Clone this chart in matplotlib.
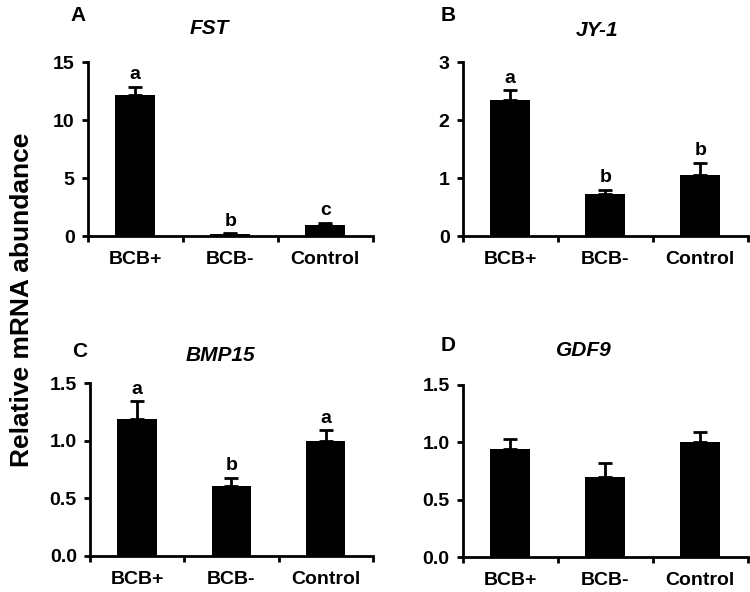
import numpy as np
import matplotlib
matplotlib.use('Agg')
import matplotlib.pyplot as plt

plt.rcParams['font.family'] = ['Liberation Sans', 'DejaVu Sans']
plt.rcParams['font.weight'] = 'bold'

# data
groups = ['BCB+', 'BCB-', 'Control']

fst_mean = [12.2, 0.15, 1.0]
fst_err = [0.7, 0.1, 0.15]
fst_sig = ['a', 'b', 'c']

jy1_mean = [2.35, 0.72, 1.05]
jy1_err = [0.17, 0.08, 0.22]
jy1_sig = ['a', 'b', 'b']

bmp15_mean = [1.19, 0.61, 1.0]
bmp15_err = [0.15, 0.07, 0.09]
bmp15_sig = ['a', 'b', 'a']

gdf9_mean = [0.94, 0.70, 1.0]
gdf9_err = [0.09, 0.12, 0.09]
gdf9_sig = ['', '', '']

panels = [
    ('A', 'FST', fst_mean, fst_err, fst_sig, [0, 5, 10, 15], '%d'),
    ('B', 'JY-1', jy1_mean, jy1_err, jy1_sig, [0, 1, 2, 3], '%d'),
    ('C', 'BMP15', bmp15_mean, bmp15_err, bmp15_sig, [0, 0.5, 1.0, 1.5], '%.1f'),
    ('D', 'GDF9', gdf9_mean, gdf9_err, gdf9_sig, [0, 0.5, 1.0, 1.5], '%.1f'),
]

# axes boxes [left, bottom, width, height]
boxes = [
    [0.117, 0.601, 0.380, 0.294],
    [0.617, 0.601, 0.380, 0.294],
    [0.120, 0.061, 0.377, 0.292],
    [0.617, 0.059, 0.380, 0.291],
]
# label / title spots in axes fractions
letter_pos = [(-0.035, 1.27), (-0.05, 1.27), (-0.035, 1.18), (-0.053, 1.227)]
title_pos = [(0.425, 1.195), (0.47, 1.18), (0.46, 1.16), (0.425, 1.20)]

fig = plt.figure(figsize=(7.5, 5.92), dpi=100)

for i, (letter, gene, mean, err, sig, yt, fmt) in enumerate(panels):
    ax = fig.add_axes(boxes[i])
    x = np.arange(len(groups))
    ax.bar(x, mean, width=0.42, color='black', zorder=2)
    ax.errorbar(x, mean, yerr=[np.zeros(len(err)), err], fmt='none',
                ecolor='black', elinewidth=2, capsize=5, capthick=2, zorder=1)
    top = yt[-1]
    for xi, m, e, s in zip(x, mean, err, sig):
        if s:
            ax.text(xi, m + e + top * 0.02, s, ha='center', va='bottom',
                    fontsize=14, fontweight='bold')
    ax.set_xlim(-0.5, 2.5)
    ax.set_ylim(0, top)
    ax.set_yticks(yt)
    ax.set_yticklabels([fmt % v for v in yt], fontsize=14, fontweight='bold')
    ax.set_xticks([-0.5, 0.5, 1.5, 2.5])
    ax.set_xticklabels([])
    ax.set_xticks(x, minor=True)
    ax.set_xticklabels(groups, minor=True, fontsize=14, fontweight='bold')
    ax.tick_params(axis='x', which='minor', length=0, pad=11)
    ax.tick_params(axis='x', which='major', length=4.5, width=2, direction='out')
    ax.tick_params(axis='y', length=4.5, width=2, direction='out', pad=5)
    for side in ['top', 'right']:
        ax.spines[side].set_visible(False)
    for side in ['left', 'bottom']:
        ax.spines[side].set_linewidth(2)
    tx, ty = title_pos[i]
    ax.text(tx, ty, gene, transform=ax.transAxes, fontsize=15,
            fontweight='bold', style='italic', ha='center', va='center')
    lx, ly = letter_pos[i]
    ax.text(lx, ly, letter, transform=ax.transAxes, fontsize=15,
            fontweight='bold', ha='center', va='center')

fig.text(0.029, 0.493, 'Relative mRNA abundance', rotation=90, ha='center',
         va='center', fontsize=19, fontweight='bold')

fig.savefig('out.png', dpi=100)
